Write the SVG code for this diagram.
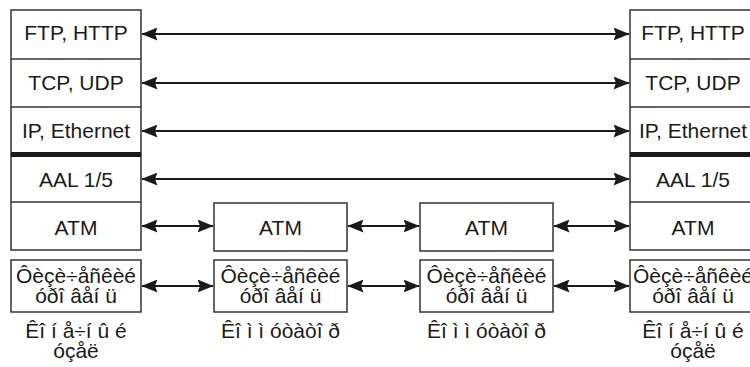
<svg xmlns="http://www.w3.org/2000/svg" width="750" height="367" viewBox="0 0 750 367">
  <defs>
    <marker id="ah" viewBox="0 0 16 13" refX="15.5" refY="6.5" markerWidth="16" markerHeight="13" markerUnits="userSpaceOnUse" orient="auto-start-reverse">
      <path d="M0,0 L16,6.5 L0,13 L2.5,6.5 Z" fill="#1a1a1a"/>
    </marker>
    <style>
      .box { fill: #ffffff; stroke: #333333; stroke-width: 1.5; }
      .div { stroke: #333333; stroke-width: 1.5; }
      .thick { stroke: #1a1a1a; stroke-width: 5; }
      .t { font-family: "Liberation Sans", Arial, sans-serif; font-size: 21px; fill: #1a1a1a; text-anchor: middle; }
      .conn line { stroke: #1a1a1a; stroke-width: 2; marker-start: url(#ah); marker-end: url(#ah); }
    </style>
  </defs>
  <rect width="750" height="367" fill="#ffffff"/>

  <!-- end node, left -->
  <g id="host-left">
    <rect class="box" x="11" y="10" width="130" height="240"/>
    <line class="div" x1="11" y1="59" x2="141" y2="59"/>
    <line class="div" x1="11" y1="107" x2="141" y2="107"/>
    <line class="thick" x1="11" y1="154.5" x2="141" y2="154.5"/>
    <line class="div" x1="11" y1="202" x2="141" y2="202"/>
    <text class="t" x="76" y="40">FTP, HTTP</text>
    <text class="t" x="76" y="90">TCP, UDP</text>
    <text class="t" x="76" y="138">IP, Ethernet</text>
    <text class="t" x="76" y="187">AAL 1/5</text>
    <text class="t" x="76" y="235">ATM</text>
    <rect class="box" x="11" y="260" width="130" height="52"/>
    <text class="t" x="76" y="282.5">Ôèçè÷åñêèé<tspan x="76" dy="20.5">óðî âåí ü</tspan></text>
    <text class="t" x="76" y="338">Êî í å÷í û é<tspan x="76" dy="20">óçåë</tspan></text>
  </g>

  <!-- switch 1 -->
  <g id="switch-1">
    <rect class="box" x="214" y="203" width="133" height="48"/>
    <text class="t" x="280.5" y="235">ATM</text>
    <rect class="box" x="214" y="260" width="133" height="52"/>
    <text class="t" x="280.5" y="282.5">Ôèçè÷åñêèé<tspan x="280.5" dy="20.5">óðî âåí ü</tspan></text>
    <text class="t" x="280.5" y="338">Êî ì ì óòàòî ð</text>
  </g>

  <!-- switch 2 -->
  <g id="switch-2">
    <rect class="box" x="420" y="203" width="133" height="48"/>
    <text class="t" x="486.5" y="235">ATM</text>
    <rect class="box" x="420" y="260" width="133" height="52"/>
    <text class="t" x="486.5" y="282.5">Ôèçè÷åñêèé<tspan x="486.5" dy="20.5">óðî âåí ü</tspan></text>
    <text class="t" x="486.5" y="338">Êî ì ì óòàòî ð</text>
  </g>

  <!-- end node, right -->
  <g id="host-right">
    <rect class="box" x="630" y="10" width="130" height="240"/>
    <line class="div" x1="630" y1="59" x2="760" y2="59"/>
    <line class="div" x1="630" y1="107" x2="760" y2="107"/>
    <line class="thick" x1="630" y1="154.5" x2="760" y2="154.5"/>
    <line class="div" x1="630" y1="202" x2="760" y2="202"/>
    <text class="t" x="693" y="40">FTP, HTTP</text>
    <text class="t" x="693" y="90">TCP, UDP</text>
    <text class="t" x="693" y="138">IP, Ethernet</text>
    <text class="t" x="693" y="187">AAL 1/5</text>
    <text class="t" x="693" y="235">ATM</text>
    <rect class="box" x="630" y="260" width="130" height="52"/>
    <text class="t" x="693" y="282.5">Ôèçè÷åñêèé<tspan x="693" dy="20.5">óðî âåí ü</tspan></text>
    <text class="t" x="693" y="338">Êî í å÷í û é<tspan x="693" dy="20">óçåë</tspan></text>
  </g>

  <!-- peer-to-peer connectors -->
  <g class="conn" id="connectors">
    <line x1="142" y1="34" x2="629" y2="34"/>
    <line x1="142" y1="83" x2="629" y2="83"/>
    <line x1="142" y1="131" x2="629" y2="131"/>
    <line x1="142" y1="179" x2="629" y2="179"/>
    <line x1="142" y1="226" x2="213" y2="226"/>
    <line x1="348" y1="226" x2="419" y2="226"/>
    <line x1="554" y1="226" x2="629" y2="226"/>
    <line x1="142" y1="286" x2="213" y2="286"/>
    <line x1="348" y1="286" x2="419" y2="286"/>
    <line x1="554" y1="286" x2="629" y2="286"/>
  </g>
</svg>
